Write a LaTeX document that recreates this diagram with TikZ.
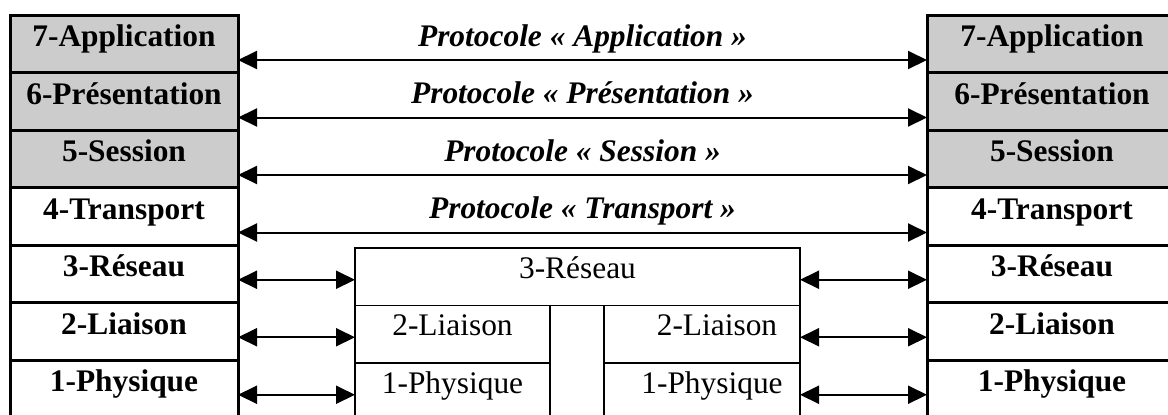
\documentclass[tikz,border=0pt]{standalone}
\usepackage{fontspec}
\setmainfont{Liberation Serif}
\usepackage{tikz}
\usetikzlibrary{arrows.meta,positioning,calc}
\definecolor{layergray}{RGB}{204,204,204}
\newcommand{\osifont}{\fontsize{15.7}{18}\selectfont}

\begin{document}
\begin{tikzpicture}[>={Triangle[length=9.5pt,width=9pt]},x=0.5pt,y=-0.5pt]
  \tikzstyle{layer}=[rectangle,draw,line width=1.5pt,inner sep=0pt,outer sep=0pt,minimum height=28.75pt,text height=15.75pt,text depth=13pt,font=\osifont\bfseries]
  \tikzstyle{hostl}=[layer,minimum width=114pt]
  \tikzstyle{hostr}=[layer,minimum width=125pt]
  \tikzstyle{relay}=[rectangle,draw,line width=0.7pt,inner sep=0pt,outer sep=0pt,minimum height=28.75pt,text height=15pt,text depth=13.75pt,font=\osifont]
  \tikzstyle{link}=[<->,line width=1pt]
  \tikzstyle{proto}=[midway,anchor=base,yshift=7pt,font=\osifont\bfseries\itshape]
  \useasboundingbox (0,0) rectangle (1168,414);
  \clip (0,0) rectangle (1168,414);
  % left end system
  \node[hostl,fill=layergray] (l7) at (124,43.75) {7-Application};
  \node[hostl,fill=layergray,below=0pt of l7] (l6) {6-Présentation};
  \node[hostl,fill=layergray,below=0pt of l6] (l5) {5-Session};
  \node[hostl,below=0pt of l5] (l4) {4-Transport};
  \node[hostl,below=0pt of l4] (l3) {3-Réseau};
  \node[hostl,below=0pt of l3] (l2) {2-Liaison};
  \node[hostl,below=0pt of l2] (l1) {1-Physique};
  % right end system
  \node[hostr,fill=layergray] (r7) at (1052,43.75) {7-Application};
  \node[hostr,fill=layergray,below=0pt of r7] (r6) {6-Présentation};
  \node[hostr,fill=layergray,below=0pt of r6] (r5) {5-Session};
  \node[hostr,below=0pt of r5] (r4) {4-Transport};
  \node[hostr,below=0pt of r4] (r3) {3-Réseau};
  \node[hostr,below=0pt of r3] (r2) {2-Liaison};
  \node[hostr,below=0pt of r2] (r1) {1-Physique};
  % intermediate node
  \node[relay,minimum width=222.5pt] (m3) at (577.5,276.75) {3-Réseau};
  \node[relay,minimum width=97.5pt,below right=0pt and 0pt of m3.south west] (m2a) {2-Liaison};
  \node[relay,minimum width=97.5pt,below=0pt of m2a] (m1a) {1-Physique};
  \node[relay,minimum width=98pt,below left=0pt and 0pt of m3.south east] (m2b) {\hspace*{15pt}2-Liaison};
  \node[relay,minimum width=98pt,below=0pt of m2b] (m1b) {\hspace*{10pt}1-Physique};
  % peer protocols
  \foreach \i/\name in {7/Application,6/Présentation,5/Session,4/Transport}
    \draw[link] ([yshift=6.25pt]l\i.south east) -- node[proto] {Protocole « \name{} »} ([yshift=6.25pt]r\i.south west);
  \foreach \i/\m/\n in {3/m3/m3,2/m2a/m2b,1/m1a/m1b} {
    \draw[link] ([yshift=-1.5pt]\m.west -| l\i.east) -- ([yshift=-1.5pt]\m.west);
    \draw[link] ([yshift=-1.5pt]\n.east) -- ([yshift=-1.5pt]\n.east -| r\i.west);
  }
\end{tikzpicture}
\end{document}
